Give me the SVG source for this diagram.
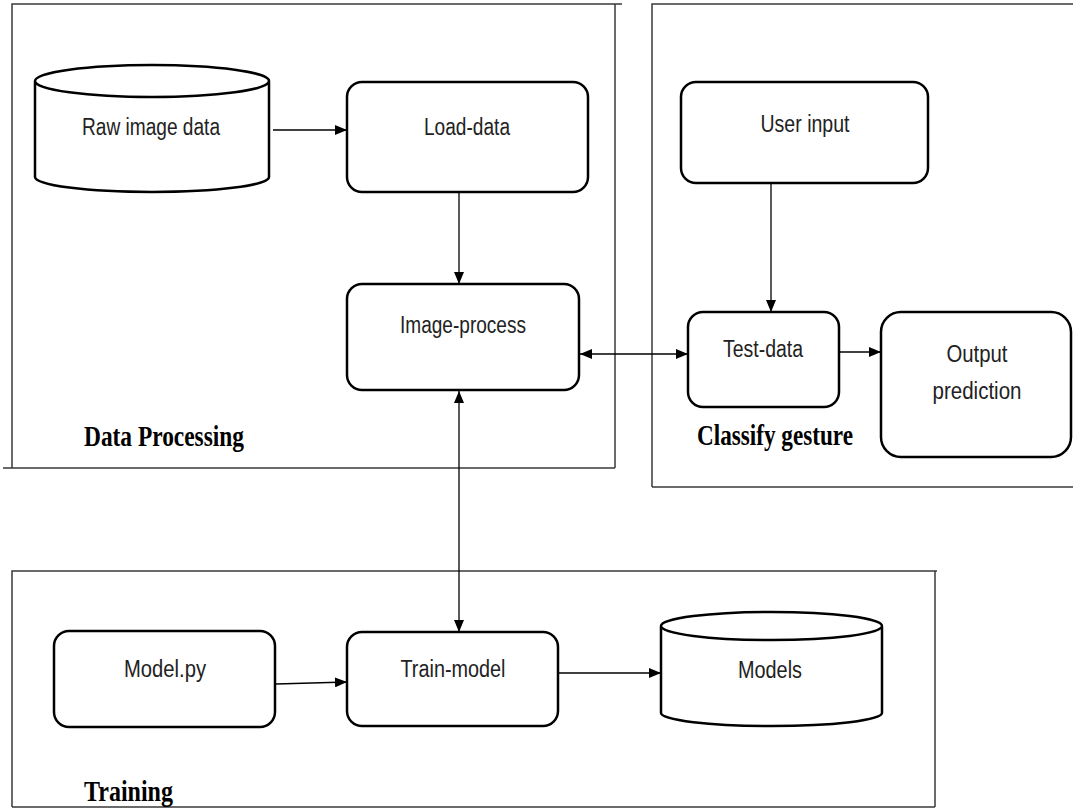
<svg xmlns="http://www.w3.org/2000/svg" width="1073" height="808" viewBox="0 0 1073 808">
<style>
.frame{fill:none;stroke:#3a3a3a;stroke-width:1.5}
.node{fill:#fff;stroke:#000;stroke-width:2.5}
.conn{fill:none;stroke:#000;stroke-width:1.3}
.lbl{font-family:"Liberation Sans",Arial,sans-serif;font-size:23px;fill:#222;text-anchor:middle}
.title{font-family:"Liberation Serif","Times New Roman",serif;font-weight:bold;font-size:29px;fill:#000}
</style>
<defs>
<marker id="ah" viewBox="0 0 12 10" refX="12" refY="5" markerWidth="12" markerHeight="10" markerUnits="userSpaceOnUse" orient="auto-start-reverse">
<path d="M0,0 L12,5 L0,10 z" fill="#000"/>
</marker>
</defs>
<rect width="1073" height="808" fill="#fff"/>

<g id="frame-data-processing">
<path class="frame" d="M12,468 V4 H622 M615,4 V468 M3,468 H615"/>
<text class="title" x="84" y="446" textLength="160" lengthAdjust="spacingAndGlyphs">Data Processing</text>
</g>
<g id="frame-classify">
<path class="frame" d="M652,487 V4 H1073 M652,487 H1073"/>
<text class="title" x="697" y="445" textLength="156" lengthAdjust="spacingAndGlyphs">Classify gesture</text>
</g>
<g id="frame-training">
<path class="frame" d="M12,807 V571 H937 M935,571 V807 M12,807 H935"/>
<text class="title" x="84" y="801" textLength="89" lengthAdjust="spacingAndGlyphs">Training</text>
</g>

<g id="raw-image-data">
<path class="node" d="M35,81 V177 A117,15 0 0 0 269,177 V81 A117,16 0 0 0 35,81 A117,16 0 0 0 269,81"/>
<text class="lbl" x="151" y="135" textLength="138" lengthAdjust="spacingAndGlyphs">Raw image data</text>
</g>
<g id="load-data">
<rect class="node" x="347" y="82" width="241" height="110" rx="15"/>
<text class="lbl" x="467" y="135" textLength="86" lengthAdjust="spacingAndGlyphs">Load-data</text>
</g>
<g id="image-process">
<rect class="node" x="347" y="284" width="232" height="106" rx="15"/>
<text class="lbl" x="463" y="333" textLength="126" lengthAdjust="spacingAndGlyphs">Image-process</text>
</g>
<g id="user-input">
<rect class="node" x="681" y="82" width="247" height="101" rx="15"/>
<text class="lbl" x="805" y="132" textLength="89" lengthAdjust="spacingAndGlyphs">User input</text>
</g>
<g id="test-data">
<rect class="node" x="688" y="312" width="151" height="95" rx="15"/>
<text class="lbl" x="763" y="357" textLength="80" lengthAdjust="spacingAndGlyphs">Test-data</text>
</g>
<g id="output-prediction">
<rect class="node" x="881" y="312" width="190" height="145" rx="20"/>
<text class="lbl" x="977" y="362" textLength="61" lengthAdjust="spacingAndGlyphs">Output</text>
<text class="lbl" x="977" y="399" textLength="89" lengthAdjust="spacingAndGlyphs">prediction</text>
</g>
<g id="model-py">
<rect class="node" x="54" y="631" width="221" height="96" rx="15"/>
<text class="lbl" x="165" y="677" textLength="82" lengthAdjust="spacingAndGlyphs">Model.py</text>
</g>
<g id="train-model">
<rect class="node" x="347" y="632" width="211" height="94" rx="15"/>
<text class="lbl" x="453" y="677" textLength="105" lengthAdjust="spacingAndGlyphs">Train-model</text>
</g>
<g id="models">
<path class="node" d="M661,626 V713 A110.5,13 0 0 0 882,713 V626 A110.5,14 0 0 0 661,626 A110.5,14 0 0 0 882,626"/>
<text class="lbl" x="770" y="678" textLength="64" lengthAdjust="spacingAndGlyphs">Models</text>
</g>

<g id="connectors">
<line class="conn" x1="273" y1="130" x2="347" y2="130" marker-end="url(#ah)"/>
<line class="conn" x1="459" y1="192" x2="459" y2="284" marker-end="url(#ah)"/>
<line class="conn" x1="580" y1="354" x2="688" y2="354" marker-start="url(#ah)" marker-end="url(#ah)"/>
<line class="conn" x1="771" y1="183" x2="771" y2="312" marker-end="url(#ah)"/>
<line class="conn" x1="839" y1="352" x2="881" y2="352" marker-end="url(#ah)"/>
<line class="conn" x1="459" y1="391" x2="459" y2="632" marker-start="url(#ah)" marker-end="url(#ah)"/>
<line class="conn" x1="276" y1="684" x2="347" y2="682" marker-end="url(#ah)"/>
<line class="conn" x1="558" y1="673" x2="661" y2="673" marker-end="url(#ah)"/>
</g>
</svg>
